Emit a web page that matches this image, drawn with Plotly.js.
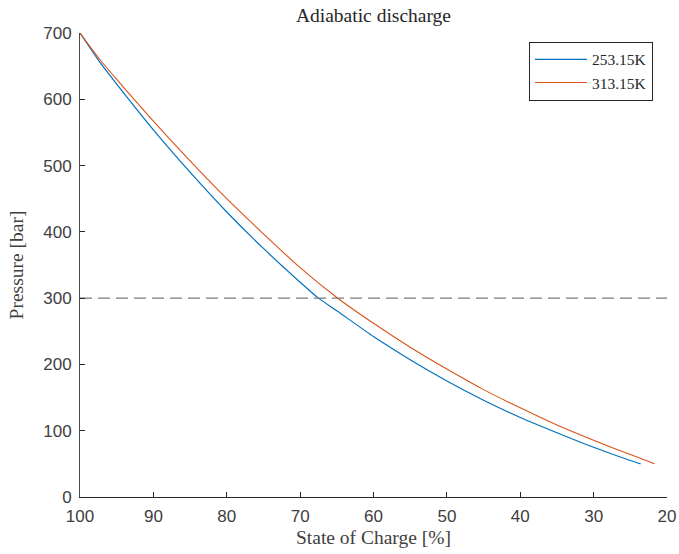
<!DOCTYPE html>
<html>
<head>
<meta charset="utf-8">
<script src="https://cdn.plot.ly/plotly-3.0.1.min.js"></script>
<style>
  html, body { margin: 0; padding: 0; background: #fff; }
  #chart { width: 679px; height: 554px; }
</style>
</head>
<body>
<div id="chart"></div>
<script>
// State of charge [%] and pressure [bar]
const socCold = [100, 97.3, 95, 90, 85, 80, 75, 70, 67.5, 65, 60, 55, 50, 45, 40, 35, 30, 25, 23.6];
const pCold   = [700, 656, 623, 554, 490, 430, 375, 324, 300, 281, 242, 207, 175, 146, 120, 97, 75, 55, 50];

const socHot = [100, 97.3, 95, 90, 85, 80, 75, 70, 65, 60, 55, 50, 45, 40, 35, 30, 25, 21.7];
const pHot   = [700, 660, 630, 567, 507, 450, 397, 346, 301, 262, 226, 193, 162, 134.5, 108.5, 85.5, 64, 50];

const seriesNames = ['253.15K', '313.15K'];
const limitPressure = 300;
const xTicks = [100, 90, 80, 70, 60, 50, 40, 30, 20];
const yTicks = [0, 100, 200, 300, 400, 500, 600, 700];

const serif = 'Liberation Serif, Times New Roman, serif';
const sans = 'Liberation Sans, Arial, Helvetica, sans-serif';

const traces = [
  {
    x: socCold, y: pCold, type: 'scatter', mode: 'lines', name: seriesNames[0],
    line: { color: '#0072BD', width: 1.2, shape: 'spline', smoothing: 0.6 }
  },
  {
    x: socHot, y: pHot, type: 'scatter', mode: 'lines', name: seriesNames[1],
    line: { color: '#D95319', width: 1.1, shape: 'spline', smoothing: 0.6 }
  },
  {
    x: [xTicks[0], xTicks[xTicks.length - 1]], y: [limitPressure, limitPressure],
    type: 'scatter', mode: 'lines', showlegend: false, hoverinfo: 'skip',
    line: { color: '#7a7a7a', width: 1.3, dash: '12px,6px' }
  }
];

const layout = {
  width: 679, height: 554,
  margin: { l: 80, r: 12, t: 33, b: 57 },
  paper_bgcolor: '#ffffff', plot_bgcolor: '#ffffff',
  showlegend: true,
  title: {
    text: 'Adiabatic discharge',
    font: { family: serif, size: 19.5, color: '#262626' },
    xref: 'paper', x: 0.5, xanchor: 'center',
    yref: 'container', y: 0.973, yanchor: 'middle'
  },
  xaxis: {
    range: [100, 20], autorange: false,
    tickvals: xTicks, ticktext: xTicks.map(String),
    ticks: 'inside', ticklen: 5, tickwidth: 1, tickcolor: '#262626',
    showline: true, linecolor: '#262626', linewidth: 1, mirror: false,
    showgrid: false, zeroline: false,
    tickfont: { family: sans, size: 17, color: '#404040' },
    ticklabelstandoff: 4,
    title: { text: 'State of Charge [%]', font: { family: serif, size: 19.5, color: '#404040' }, standoff: 4 }
  },
  yaxis: {
    range: [0, 700], autorange: false,
    tickvals: yTicks, ticktext: yTicks.map(String),
    ticks: 'inside', ticklen: 5, tickwidth: 1, tickcolor: '#262626',
    showline: true, linecolor: '#4a4a4a', linewidth: 1, mirror: false,
    showgrid: false, zeroline: false,
    tickfont: { family: sans, size: 17, color: '#404040' },
    ticklabelstandoff: 4,
    title: { text: 'Pressure [bar]', font: { family: serif, size: 19.5, color: '#404040' }, standoff: 14 }
  },
  legend: {
    x: 0.976, xanchor: 'right', y: 0.981, yanchor: 'top',
    bgcolor: '#ffffff', bordercolor: '#262626', borderwidth: 1,
    font: { family: serif, size: 15.5, color: '#262626' },
    tracegroupgap: 0, itemwidth: 52
  }
};

Plotly.newPlot('chart', traces, layout, { displayModeBar: false, staticPlot: true });
</script>
</body>
</html>
